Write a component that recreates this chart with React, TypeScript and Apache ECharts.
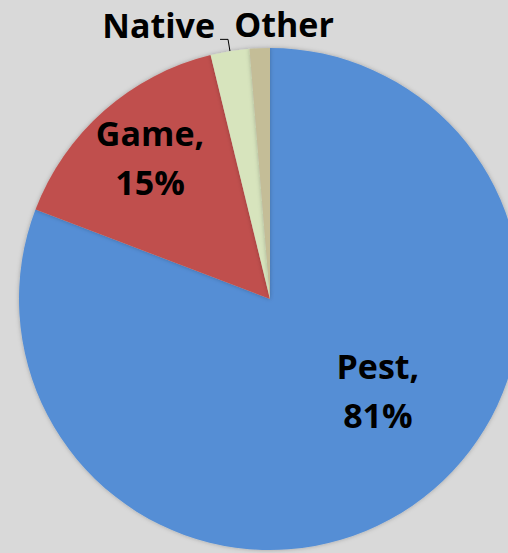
import React, { useEffect, useRef } from "react";
import * as echarts from "echarts";

const categories = ["Pest", "Game", "Native", "Other"];
const values = [80.8, 15.4, 2.5, 1.3];
const colors = ["#558ED5", "#C0504D", "#D7E4BD", "#C4BD97"];

export default function App() {
  const ref = useRef<HTMLDivElement>(null);
  useEffect(() => {
    const chart = echarts.init(ref.current!, undefined, { renderer: "svg" });
    const labelFont = {
      fontFamily: "Open Sans",
      fontWeight: "bold" as const,
      fontSize: 34,
      color: "#000",
      lineHeight: 49,
    };
    const data = categories.map((name, i) => {
      const item: any = { name, value: values[i], itemStyle: { color: colors[i] } };
      if (i === 0) {
        item.label = { position: "inside", offset: [35, -14], ...labelFont };
      } else if (i === 1) {
        item.label = { position: "inside", offset: [-35, -45], ...labelFont };
      } else if (i === 2) {
        item.label = { position: "outside", ...labelFont, formatter: "{b}" };
        item.labelLine = { show: true, length: 12, length2: 8, lineStyle: { color: "#000", width: 1 } };
      } else {
        item.label = { position: "outside", ...labelFont, formatter: "{b}" };
        item.labelLine = { show: false };
      }
      return item;
    });
    chart.setOption({
      animation: false,
      backgroundColor: "#D9D9D9",
      series: [
        {
          type: "pie",
          center: [270, 299],
          radius: 251,
          startAngle: 90,
          clockwise: true,
          avoidLabelOverlap: false,
          itemStyle: { borderWidth: 0, shadowBlur: 4, shadowColor: "rgba(0,0,0,0.25)" },
          label: {
            ...labelFont,
            formatter: (p: any) => `${p.name},\n${Math.round(p.percent)}%`,
          },
          labelLayout: (p: any) => {
            if (p.dataIndex === 2) return { dy: -14 };
            if (p.dataIndex === 3) return { x: 284, y: 24, align: "center", verticalAlign: "middle" };
            return {};
          },
          data,
        },
      ],
    });
    return () => chart.dispose();
  }, []);
  return (
    <div
      ref={ref}
      style={{ position: "fixed", left: 0, top: 0, width: 508, height: 553 }}
    />
  );
}
